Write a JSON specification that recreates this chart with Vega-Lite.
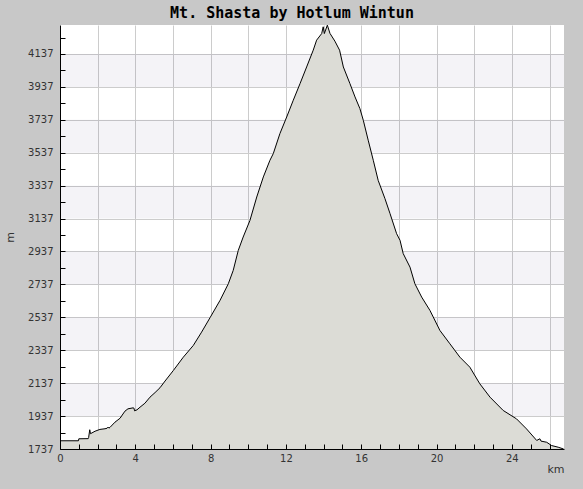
{
  "$schema": "https://vega.github.io/schema/vega-lite/v6.json",
  "width": 504,
  "height": 424,
  "autosize": {"type": "none"},
  "padding": {"left": 60, "top": 25, "right": 19, "bottom": 40},
  "background": "#c8c8c8",
  "title": {"text": "Mt. Shasta by Hotlum Wintun", "font": "DejaVu Sans Mono", "fontSize": 15, "fontWeight": "bold", "color": "#000000", "anchor": "middle", "frame": "group", "dx": -20, "baseline": "alphabetic", "offset": -10},
  "config": {"view": {"fill": "white", "stroke": null}},
  "datasets": {
    "bands": [
      {"lo": 1937, "hi": 2137}, {"lo": 2337, "hi": 2537}, {"lo": 2737, "hi": 2937},
      {"lo": 3137, "hi": 3337}, {"lo": 3537, "hi": 3737}, {"lo": 3937, "hi": 4137}
    ],
    "profile": [
      {"km": 0, "m": 1787}, {"km": 0.98, "m": 1787}, {"km": 1.0, "m": 1799}, {"km": 1.5, "m": 1800},
      {"km": 1.52, "m": 1806}, {"km": 1.58, "m": 1854}, {"km": 1.62, "m": 1830}, {"km": 1.86, "m": 1845},
      {"km": 2.12, "m": 1856}, {"km": 2.39, "m": 1860}, {"km": 2.5, "m": 1863}, {"km": 2.55, "m": 1870},
      {"km": 2.6, "m": 1864}, {"km": 2.66, "m": 1869}, {"km": 2.92, "m": 1900}, {"km": 3.19, "m": 1924},
      {"km": 3.45, "m": 1967}, {"km": 3.61, "m": 1981}, {"km": 3.88, "m": 1987}, {"km": 3.93, "m": 1985},
      {"km": 3.96, "m": 1969}, {"km": 4.09, "m": 1975}, {"km": 4.25, "m": 1991}, {"km": 4.51, "m": 2015},
      {"km": 4.78, "m": 2052}, {"km": 5.05, "m": 2080}, {"km": 5.31, "m": 2109}, {"km": 5.58, "m": 2150},
      {"km": 6.02, "m": 2214}, {"km": 6.55, "m": 2295}, {"km": 7.08, "m": 2366}, {"km": 7.52, "m": 2447},
      {"km": 7.97, "m": 2535}, {"km": 8.5, "m": 2640}, {"km": 8.94, "m": 2741}, {"km": 9.2, "m": 2822},
      {"km": 9.47, "m": 2944}, {"km": 9.73, "m": 3025}, {"km": 10.09, "m": 3126}, {"km": 10.45, "m": 3268},
      {"km": 10.8, "m": 3390}, {"km": 11.15, "m": 3491}, {"km": 11.33, "m": 3532}, {"km": 11.68, "m": 3653},
      {"km": 12.04, "m": 3754}, {"km": 12.39, "m": 3856}, {"km": 12.75, "m": 3957}, {"km": 13.1, "m": 4058},
      {"km": 13.45, "m": 4160}, {"km": 13.63, "m": 4221}, {"km": 13.9, "m": 4261}, {"km": 13.98, "m": 4302},
      {"km": 14.04, "m": 4261}, {"km": 14.2, "m": 4312}, {"km": 14.34, "m": 4262}, {"km": 14.6, "m": 4215},
      {"km": 14.85, "m": 4160}, {"km": 15.05, "m": 4058}, {"km": 15.4, "m": 3957}, {"km": 15.67, "m": 3876},
      {"km": 15.93, "m": 3805}, {"km": 16.11, "m": 3734}, {"km": 16.37, "m": 3613}, {"km": 16.64, "m": 3491},
      {"km": 16.9, "m": 3369}, {"km": 17.26, "m": 3258}, {"km": 17.53, "m": 3167}, {"km": 17.88, "m": 3045},
      {"km": 18.06, "m": 3005}, {"km": 18.23, "m": 2924}, {"km": 18.59, "m": 2842}, {"km": 18.85, "m": 2741},
      {"km": 19.21, "m": 2660}, {"km": 19.65, "m": 2579}, {"km": 20.18, "m": 2457}, {"km": 20.71, "m": 2376},
      {"km": 21.24, "m": 2295}, {"km": 21.77, "m": 2234}, {"km": 22.3, "m": 2133}, {"km": 22.84, "m": 2052},
      {"km": 23.54, "m": 1971}, {"km": 24.25, "m": 1920}, {"km": 24.78, "m": 1859}, {"km": 25.32, "m": 1789},
      {"km": 25.49, "m": 1799}, {"km": 25.55, "m": 1785}, {"km": 25.85, "m": 1778}, {"km": 26.11, "m": 1758},
      {"km": 26.46, "m": 1748}, {"km": 26.75, "m": 1737}
    ]
  },
  "layer": [
    {
      "data": {"name": "bands"},
      "mark": {"type": "rect", "fill": "rgb(55,38,105)", "opacity": 0.055},
      "encoding": {
        "y": {"field": "lo", "type": "quantitative", "scale": {"domain": [1737, 4313], "nice": false, "zero": false}, "axis": null},
        "y2": {"field": "hi"}
      }
    },
    {
      "data": {"name": "profile"},
      "mark": {"type": "area", "color": "#dcdcd6", "clip": true},
      "encoding": {
        "x": {"field": "km", "type": "quantitative", "scale": {"domain": [0, 26.77], "nice": false, "zero": false},
          "axis": {"orient": "bottom", "values": [2, 4, 6, 8, 10, 12, 14, 16, 18, 20, 22, 24, 26], "grid": true, "gridColor": "#cccccc", "domain": false, "ticks": false, "labels": false, "title": null, "zindex": 0}},
        "y": {"field": "m", "type": "quantitative", "scale": {"domain": [1737, 4313], "nice": false, "zero": false},
          "axis": {"orient": "left", "values": [1937, 2137, 2337, 2537, 2737, 2937, 3137, 3337, 3537, 3737, 3937, 4137], "grid": true, "gridColor": "#cccccc", "domain": false, "ticks": false, "labels": false, "title": null, "zindex": 0}}
      }
    },
    {
      "data": {"name": "profile"},
      "mark": {"type": "line", "color": "#000000", "strokeWidth": 1},
      "encoding": {
        "x": {"field": "km", "type": "quantitative", "scale": {"domain": [0, 26.77], "nice": false, "zero": false},
          "axis": {"orient": "bottom", "values": [0, 1, 2, 3, 4, 5, 6, 7, 8, 9, 10, 11, 12, 13, 14, 15, 16, 17, 18, 19, 20, 21, 22, 23, 24, 25, 26],
            "grid": false, "tickSize": -5, "tickColor": "#000000", "domainColor": "#000000", "labelExpr": "datum.value % 4 == 0 ? datum.label : ''",
            "labelOverlap": false, "labelFlush": false, "labelBound": false, "labelFont": "DejaVu Sans", "labelFontSize": 10, "labelColor": "#333333", "labelPadding": 9,
            "title": "km", "titleAnchor": "end", "titleFont": "DejaVu Sans", "titleFontSize": 11, "titleFontWeight": "normal", "titleColor": "#333333", "titlePadding": 0, "zindex": 1}},
        "y": {"field": "m", "type": "quantitative", "scale": {"domain": [1737, 4313], "nice": false, "zero": false},
          "axis": {"orient": "left", "values": [1737, 1837, 1937, 2037, 2137, 2237, 2337, 2437, 2537, 2637, 2737, 2837, 2937, 3037, 3137, 3237, 3337, 3437, 3537, 3637, 3737, 3837, 3937, 4037, 4137, 4237],
            "format": "d", "grid": false, "tickSize": -5, "tickColor": "#000000", "domainColor": "#000000", "labelExpr": "(datum.value - 1737) % 200 == 0 ? datum.label : ''",
            "labelOverlap": false, "labelFlush": false, "labelBound": false, "labelFont": "DejaVu Sans", "labelFontSize": 10, "labelColor": "#333333", "labelPadding": 12,
            "title": "m", "titleFont": "DejaVu Sans", "titleFontSize": 11, "titleFontWeight": "normal", "titleColor": "#333333", "titlePadding": 12, "zindex": 1}}
      }
    }
  ],
  "resolve": {"axis": {"x": "independent", "y": "independent"}}
}
